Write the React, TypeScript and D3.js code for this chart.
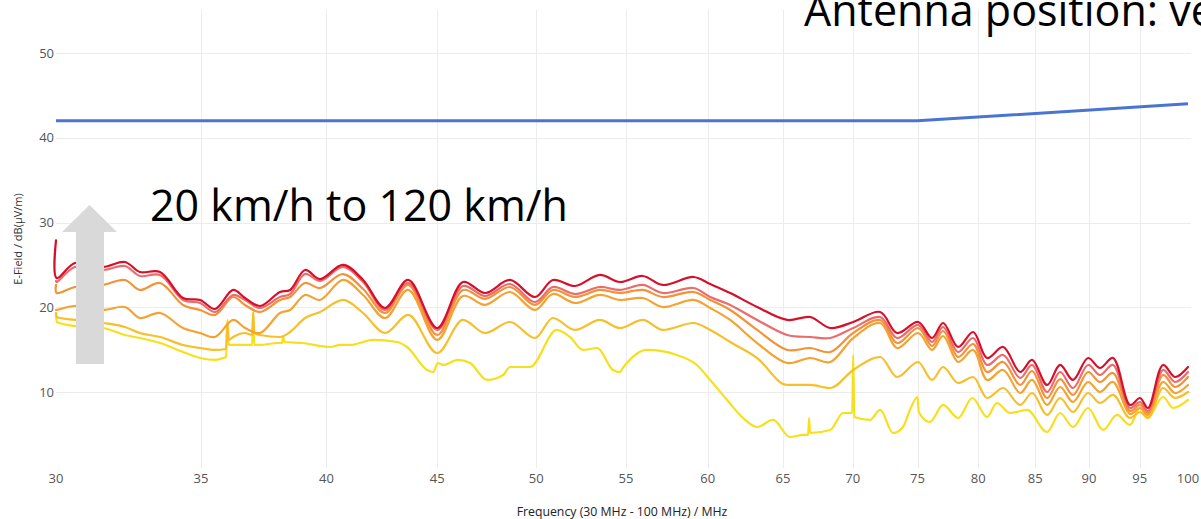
import React from 'react';
import * as d3 from 'd3';

// ---------- data ----------
const FREQ = [30.0, 30.02, 30.61, 31.54, 32.28, 32.8, 33.51, 34.34, 34.97, 35.53, 36.22, 36.68, 37.27, 38.07, 38.48, 39.1, 39.73, 40.71, 41.59, 42.57, 43.63, 45.0, 46.25, 47.35, 48.62, 49.93, 50.89, 52.1, 53.5, 54.65, 56.0, 57.2, 59.1, 60.16, 61.45, 63.24, 65.29, 66.91, 68.35, 70.04, 72.08, 73.39, 75.05, 76.17, 77.07, 78.31, 79.57, 80.76, 82.15, 83.65, 84.72, 86.08, 87.28, 88.49, 89.91, 91.06, 92.33, 94.02, 95.02, 95.83, 97.38, 98.63, 100.0];

const V120 = [27.9, 23.45, 25.22, 24.75, 25.34, 24.16, 24.16, 21.09, 20.86, 19.79, 22.04, 21.09, 20.15, 21.8, 22.04, 24.4, 23.33, 24.99, 23.22, 19.91, 23.22, 17.55, 22.98, 21.68, 23.22, 21.21, 23.22, 22.51, 23.81, 22.98, 23.69, 22.63, 23.57, 22.74, 21.68, 20.03, 18.5, 18.85, 17.55, 18.26, 19.44, 16.96, 18.26, 16.37, 18.14, 15.31, 17.08, 14.01, 15.31, 12.36, 13.78, 10.83, 13.19, 11.42, 14.01, 12.83, 14.01, 8.47, 9.29, 8.11, 13.19, 11.77, 12.95];

const V100 = [23.1, 22.98, 24.75, 24.4, 24.87, 23.69, 23.81, 20.86, 20.5, 19.44, 21.45, 20.86, 19.91, 21.21, 21.56, 23.92, 23.1, 24.75, 22.98, 19.68, 22.86, 17.32, 22.51, 21.33, 22.74, 20.62, 22.39, 21.56, 22.39, 22.04, 22.63, 21.68, 22.27, 21.21, 20.27, 18.5, 16.73, 16.49, 16.37, 17.55, 18.85, 16.37, 17.91, 15.9, 17.67, 14.72, 16.37, 13.19, 14.37, 11.65, 13.19, 10.0, 12.36, 10.47, 13.19, 12.01, 13.19, 8.11, 8.82, 7.76, 12.6, 11.18, 12.36];

const V80 = [22.63, 21.68, 22.39, 22.63, 23.22, 22.04, 22.86, 20.27, 19.68, 19.09, 21.21, 20.27, 19.44, 20.86, 21.21, 22.86, 22.27, 23.92, 22.15, 19.32, 22.63, 16.73, 22.04, 20.98, 22.39, 20.27, 22.04, 21.21, 22.04, 21.68, 22.04, 21.21, 21.8, 20.86, 19.68, 17.32, 14.96, 15.19, 14.72, 16.96, 18.5, 15.78, 17.55, 15.43, 17.2, 14.13, 15.66, 12.36, 13.54, 10.83, 12.48, 9.29, 11.53, 9.65, 12.36, 11.18, 12.24, 7.76, 8.47, 7.52, 12.01, 10.59, 11.77];

const V60 = [19.68, 19.68, 20.15, 19.68, 20.03, 18.73, 19.32, 17.55, 16.96, 16.49, 18.5, 17.55, 16.96, 19.32, 19.68, 21.45, 20.86, 23.22, 21.45, 18.73, 22.04, 16.14, 21.33, 20.27, 21.8, 19.68, 21.56, 20.5, 21.45, 20.86, 21.09, 20.03, 20.86, 19.91, 18.5, 15.78, 13.42, 14.01, 13.54, 16.37, 18.14, 15.19, 16.96, 14.96, 16.61, 13.54, 14.96, 11.42, 12.6, 9.88, 11.42, 8.47, 10.59, 8.82, 11.18, 10.0, 11.18, 7.4, 8.11, 7.29, 11.18, 9.88, 10.83];

const FREQ_40 = [30.0, 30.02, 30.61, 31.54, 32.28, 32.8, 33.51, 34.34, 34.97, 35.53, 35.95, 36.0, 36.05, 36.22, 36.68, 36.96, 37.0, 37.04, 37.27, 38.07, 38.48, 39.1, 39.73, 40.71, 41.59, 42.57, 43.63, 45.0, 46.25, 47.35, 48.62, 49.93, 50.89, 52.1, 53.5, 54.65, 56.0, 57.2, 59.1, 60.16, 61.45, 63.24, 65.29, 66.91, 68.35, 70.04, 72.08, 73.39, 75.05, 76.17, 77.07, 78.31, 79.57, 80.76, 82.15, 83.65, 84.72, 86.08, 87.28, 88.49, 89.91, 91.06, 92.33, 94.02, 95.02, 95.83, 97.38, 98.63, 100.0];
const V40 = [19.32, 18.85, 18.5, 18.14, 17.67, 16.96, 16.49, 15.55, 15.19, 14.96, 15.07, 18.26, 16.14, 16.49, 16.96, 16.73, 19.44, 16.96, 16.73, 16.49, 17.08, 18.73, 19.44, 20.86, 19.32, 16.96, 19.09, 14.6, 18.5, 16.96, 18.26, 16.37, 18.73, 17.32, 18.5, 17.55, 18.5, 17.32, 18.14, 17.32, 15.9, 14.01, 10.83, 10.83, 10.47, 12.6, 14.13, 11.77, 13.54, 11.42, 12.95, 11.06, 11.77, 9.29, 10.47, 8.47, 9.88, 7.29, 9.29, 7.64, 9.88, 8.7, 9.65, 6.93, 7.64, 6.93, 10.47, 9.29, 10.0];

const FREQ_20 = [30.0, 30.02, 30.61, 31.54, 32.28, 32.8, 33.51, 34.34, 34.97, 35.53, 35.83, 35.95, 36.0, 36.05, 36.22, 36.75, 36.96, 37.0, 37.04, 37.27, 37.95, 38.15, 38.2, 38.25, 38.99, 40.15, 40.58, 41.02, 42.03, 43.12, 43.58, 44.52, 44.8, 45.03, 45.28, 46.0, 46.6, 47.45, 48.27, 48.62, 49.66, 51.1, 51.82, 52.54, 53.34, 54.25, 54.65, 54.82, 56.25, 58.06, 59.31, 60.16, 61.25, 62.3, 63.24, 64.32, 65.49, 66.4, 66.76, 66.83, 66.9, 68.35, 69.3, 69.97, 70.04, 70.12, 71.3, 72.08, 73.07, 73.85, 74.4, 75.0, 75.1, 75.99, 77.07, 78.31, 79.5, 80.76, 81.6, 82.76, 84.27, 86.08, 87.28, 88.49, 89.91, 91.36, 92.73, 94.02, 95.02, 95.83, 97.38, 98.44, 100.0];
const V20 = [19.32, 18.26, 17.79, 17.55, 16.73, 16.37, 15.78, 14.72, 14.01, 13.78, 14.01, 14.13, 18.5, 15.55, 15.55, 15.55, 15.55, 19.32, 15.55, 15.55, 15.78, 15.78, 16.49, 15.9, 15.78, 15.31, 15.55, 15.55, 16.14, 15.9, 15.31, 12.6, 12.36, 13.42, 13.19, 13.78, 13.42, 11.42, 12.01, 12.95, 12.95, 17.32, 16.49, 14.96, 15.19, 12.6, 12.36, 12.83, 14.96, 14.37, 13.19, 11.42, 9.06, 6.93, 5.87, 6.7, 4.69, 4.93, 4.93, 6.93, 5.16, 5.52, 7.52, 7.52, 14.37, 7.05, 6.7, 7.88, 5.16, 5.87, 7.88, 9.41, 7.64, 6.46, 8.47, 6.93, 9.29, 7.05, 8.7, 7.52, 7.88, 5.28, 7.52, 5.87, 8.11, 5.52, 7.29, 6.11, 8.11, 7.05, 9.41, 8.11, 9.06];

const LIMIT_FREQ = [30, 75, 100];
const LIMIT_VALUES = [42, 42, 44];

const X_TICKS = [30, 35, 40, 45, 50, 55, 60, 65, 70, 75, 80, 85, 90, 95, 100];
const X_GRID = [35, 40, 45, 50, 55, 60, 65, 70, 75, 80, 85, 90, 95];
const Y_TICKS = [10, 20, 30, 40, 50];

// spiky series use a monotone curve (no loops), smooth ones Catmull-Rom
const SERIES = [
  { name: '20 km/h', color: '#f6e01c', freq: FREQ_20, values: V20, spiky: true },
  { name: '40 km/h', color: '#f7bf2a', freq: FREQ_40, values: V40, spiky: true },
  { name: '60 km/h', color: '#f5a22f', freq: FREQ, values: V60, spiky: false },
  { name: '80 km/h', color: '#f39237', freq: FREQ, values: V80, spiky: false },
  { name: '100 km/h', color: '#ec6b6b', freq: FREQ, values: V100, spiky: false },
  { name: '120 km/h', color: '#d6102a', freq: FREQ, values: V120, spiky: false },
];

// ---------- layout ----------
const W = 1201;
const H = 519;
const PLOT = { left: 56, right: 1188, top: 10, bottom: 468, gridRight: 1191 };

export default function App() {
  const x = d3.scaleLog().domain([30, 100]).range([PLOT.left, PLOT.right]);
  const y = d3.scaleLinear().domain([10, 50]).range([392, 53]);
  const smoothLine = d3
    .line<[number, number]>()
    .x((d) => x(d[0]))
    .y((d) => y(d[1]))
    .curve(d3.curveCatmullRom.alpha(0.5));
  const spikyLine = d3
    .line<[number, number]>()
    .x((d) => x(d[0]))
    .y((d) => y(d[1]))
    .curve(d3.curveMonotoneX);
  const limitLine = d3
    .line<[number, number]>()
    .x((d) => x(d[0]))
    .y((d) => y(d[1]));

  const limitPts: [number, number][] = LIMIT_FREQ.map((f, i) => [f, LIMIT_VALUES[i]]);

  return (
    <div style={{ position: 'fixed', left: 0, top: 0, width: W, height: H, overflow: 'hidden', background: '#fff' }}>
      <svg width={W} height={H} style={{ display: 'block' }} fontFamily="'Open Sans', sans-serif">
        <rect x={0} y={0} width={W} height={H} fill="#fff" />
        {/* grid */}
        <g stroke="#ececec" strokeWidth={1}>
          {Y_TICKS.map((t) => (
            <line key={'gy' + t} x1={PLOT.left} x2={PLOT.gridRight} y1={Math.round(y(t)) + 0.5} y2={Math.round(y(t)) + 0.5} />
          ))}
          {X_GRID.map((t) => (
            <line key={'gx' + t} x1={Math.round(x(t)) + 0.5} x2={Math.round(x(t)) + 0.5} y1={PLOT.top} y2={PLOT.bottom} />
          ))}
        </g>
        {/* tick labels */}
        <g fontSize={13} fill="#555">
          {Y_TICKS.map((t) => (
            <text key={'ty' + t} x={PLOT.left - 2} y={y(t)} dy="0.36em" textAnchor="end">
              {t}
            </text>
          ))}
          {X_TICKS.map((t) => (
            <text key={'tx' + t} x={x(t)} y={483} textAnchor="middle">
              {t}
            </text>
          ))}
        </g>
        {/* axis titles */}
        <text x={622} y={516} fontSize={12.3} fill="#222" textAnchor="middle">
          Frequency (30 MHz - 100 MHz) / MHz
        </text>
        <text transform="translate(21.5,239) rotate(-90)" fontSize={11} fill="#333" textAnchor="middle">
          E-Field / dB(µV/m)
        </text>
        {/* data series */}
        <g fill="none" strokeWidth={2.2} strokeLinejoin="round" strokeLinecap="round">
          {SERIES.map((s) => {
            const pts = s.freq.map((f, i) => [f, s.values[i]] as [number, number]);
            const gen = s.spiky ? spikyLine : smoothLine;
            return <path key={s.name} d={gen(pts) || ''} stroke={s.color} />;
          })}
        </g>
        {/* limit line */}
        <path d={limitLine(limitPts) || ''} fill="none" stroke="#4a74d2" strokeWidth={3} />
        {/* arrow annotation */}
        <polygon points="76,364 104,364 104,232 117,232 89.5,205 62,232 76,232" fill="#d9d9d9" />
        <text x={150} y={221} fontSize={43} fill="#000">
          20 km/h to 120 km/h
        </text>
        <text x={804} y={26} fontSize={43} fill="#000">
          Antenna position: vertical
        </text>
      </svg>
    </div>
  );
}
